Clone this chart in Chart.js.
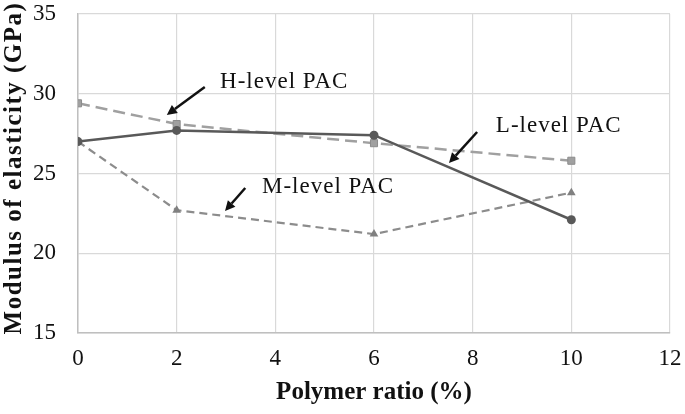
<!DOCTYPE html>
<html>
<head>
<meta charset="utf-8">
<script src="https://cdn.jsdelivr.net/npm/chart.js@4.4.1/dist/chart.umd.min.js"></script>
<style>
html,body{margin:0;padding:0;background:#fff;}
#wrap{width:685px;height:414px;position:relative;}
</style>
</head>
<body>
<div id="wrap"><canvas id="c" width="685" height="414"></canvas></div>
<script>
// Data
const xValues = [0, 2, 6, 10];
const lLevel = [27.0, 27.7, 27.4, 22.1];
const hLevel = [29.4, 28.1, 26.9, 25.8];
const mLevel = [27.0, 22.7, 21.2, 23.8];
const seriesNames = ['L-level PAC', 'H-level PAC', 'M-level PAC'];
const xTicks = [0, 2, 4, 6, 8, 10, 12];
const yTicks = [15, 20, 25, 30, 35];
const xTitle = 'Polymer ratio (%)';
const yTitle = 'Modulus of elasticity (GPa)';

// Annotation layout (data coordinates)
const notes = [
  {text: 'H-level PAC', tx: 2.88, ty: 30.74, ax1: 2.57, ay1: 30.42, ax2: 1.80, ay2: 28.67},
  {text: 'M-level PAC', tx: 3.73, ty: 24.15, ax1: 3.39, ay1: 24.09, ax2: 2.98, ay2: 22.65},
  {text: 'L-level PAC', tx: 8.47, ty: 27.98, ax1: 8.09, ay1: 27.60, ax2: 7.52, ay2: 25.66}
];

const pts = arr => xValues.map((x, i) => ({x: x, y: arr[i]}));

const notePlugin = {
  id: 'notes',
  afterDatasetsDraw(chart) {
    const ctx = chart.ctx, xs = chart.scales.x, ys = chart.scales.y;
    ctx.save();
    notes.forEach(n => {
      ctx.font = '23px "Liberation Serif", "Times New Roman", serif';
      ctx.letterSpacing = '1px';
      ctx.fillStyle = '#111';
      ctx.textAlign = 'left';
      ctx.textBaseline = 'middle';
      ctx.fillText(n.text, xs.getPixelForValue(n.tx), ys.getPixelForValue(n.ty));
      ctx.letterSpacing = '0px';
      const x1 = xs.getPixelForValue(n.ax1), y1 = ys.getPixelForValue(n.ay1);
      const x2 = xs.getPixelForValue(n.ax2), y2 = ys.getPixelForValue(n.ay2);
      const ang = Math.atan2(y2 - y1, x2 - x1);
      const hl = 10, hw = 5;
      const bx = x2 - hl * Math.cos(ang), by = y2 - hl * Math.sin(ang);
      ctx.strokeStyle = '#111';
      ctx.lineWidth = 2.5;
      ctx.beginPath();
      ctx.moveTo(x1, y1);
      ctx.lineTo(bx, by);
      ctx.stroke();
      ctx.beginPath();
      ctx.moveTo(x2, y2);
      ctx.lineTo(bx + hw * Math.sin(ang), by - hw * Math.cos(ang));
      ctx.lineTo(bx - hw * Math.sin(ang), by + hw * Math.cos(ang));
      ctx.closePath();
      ctx.fillStyle = '#111';
      ctx.fill();
    });
    // Y axis title
    ctx.translate(15, 168);
    ctx.rotate(-Math.PI / 2);
    ctx.font = 'bold 25px "Liberation Serif", "Times New Roman", serif';
    ctx.letterSpacing = '1.5px';
    ctx.textAlign = 'center';
    ctx.textBaseline = 'middle';
    ctx.fillStyle = '#111';
    ctx.fillText(yTitle, 0, 0);
    ctx.restore();
  }
};

new Chart(document.getElementById('c'), {
  type: 'line',
  data: {
    datasets: [
      {label: seriesNames[0], data: pts(lLevel), borderColor: '#595959', backgroundColor: '#595959',
       borderWidth: 2.5, pointStyle: 'circle', pointRadius: 4.5, pointBorderWidth: 0, tension: 0, order: 1},
      {label: seriesNames[1], data: pts(hLevel), borderColor: '#a0a0a0', backgroundColor: '#a0a0a0',
       pointBorderColor: '#8c8c8c', borderWidth: 2.5, borderDash: [12, 6], pointStyle: 'rect', pointRadius: 5,
       pointBorderWidth: 1, tension: 0, order: 2},
      {label: seriesNames[2], data: pts(mLevel), borderColor: '#8c8c8c', backgroundColor: '#808080',
       borderWidth: 2.2, borderDash: [8, 5], pointStyle: 'triangle', pointRadius: 5, pointBorderWidth: 0,
       tension: 0, order: 3}
    ]
  },
  options: {
    responsive: false,
    animation: false,
    events: [],
    layout: {padding: 0},
    plugins: {legend: {display: false}, tooltip: {enabled: false}},
    scales: {
      x: {
        type: 'linear', min: 0, max: 12,
        afterBuildTicks: s => { s.ticks = xTicks.map(v => ({value: v})); },
        afterFit: s => { s.height = 81; s.paddingLeft = 0; s.paddingRight = 15; },
        grid: {color: '#d9d9d9', lineWidth: 1.2, drawTicks: false},
        border: {color: '#bfbfbf', width: 1.5},
        ticks: {padding: 12, color: '#111', font: {family: '"Liberation Serif", serif', size: 23}},
        title: {display: true, text: xTitle, color: '#111',
                font: {family: '"Liberation Serif", serif', size: 25, weight: 'bold'},
                padding: {top: 4, bottom: 6}}
      },
      y: {
        type: 'linear', min: 15, max: 35,
        afterBuildTicks: s => { s.ticks = yTicks.map(v => ({value: v})); },
        afterFit: s => { s.width = 78; s.paddingTop = 14; s.paddingBottom = 0; },
        grid: {color: '#d9d9d9', lineWidth: 1.2, drawTicks: false},
        border: {color: '#bfbfbf', width: 1.5},
        ticks: {padding: 22, color: '#111', font: {family: '"Liberation Serif", serif', size: 23}},
        title: {display: false, text: yTitle}
      }
    }
  },
  plugins: [notePlugin]
});
</script>
</body>
</html>
